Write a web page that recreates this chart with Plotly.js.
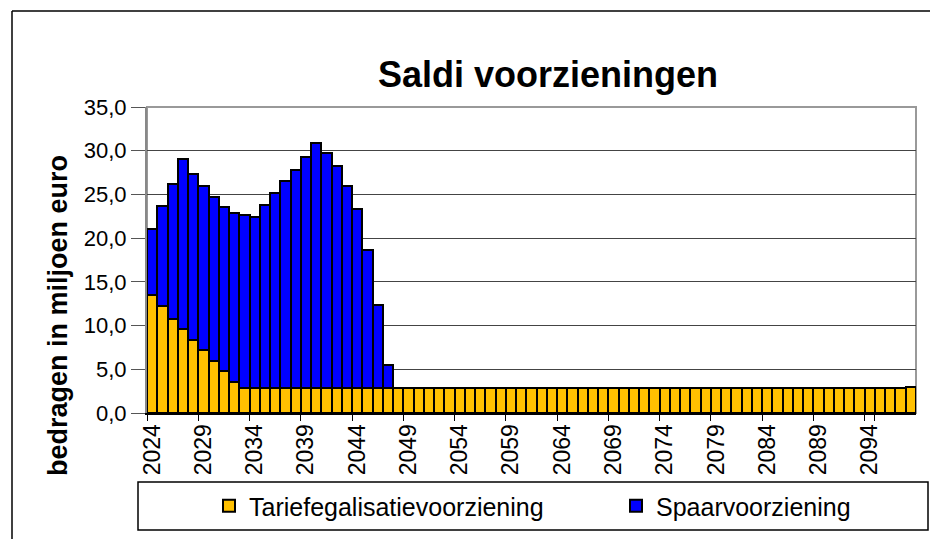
<!DOCTYPE html>
<html>
<head>
<meta charset="utf-8">
<script src="https://cdn.plot.ly/plotly-3.0.1.min.js"></script>
<style>
html,body{margin:0;padding:0;background:#fff;}
#chart{width:930px;height:539px;}
</style>
</head>
<body>
<div id="chart"></div>
<script>
var years = ['2024','2025','2026','2027','2028','2029','2030','2031','2032','2033',
'2034','2035','2036','2037','2038','2039','2040','2041','2042','2043',
'2044','2045','2046','2047','2048','2049','2050','2051','2052','2053',
'2054','2055','2056','2057','2058','2059','2060','2061','2062','2063',
'2064','2065','2066','2067','2068','2069','2070','2071','2072','2073',
'2074','2075','2076','2077','2078','2079','2080','2081','2082','2083',
'2084','2085','2086','2087','2088','2089','2090','2091','2092','2093',
'2094','2095','2096','2097','2098'];

var tariefegalisatie = [13.5,12.2,10.8,9.6,8.3,7.2,6.0,4.8,3.6,2.9,
2.9,2.9,2.9,2.9,2.9,2.9,2.9,2.9,2.9,2.9,
2.9,2.9,2.9,2.9,2.9,2.9,2.9,2.9,2.9,2.9,
2.9,2.9,2.9,2.9,2.9,2.9,2.9,2.9,2.9,2.9,
2.9,2.9,2.9,2.9,2.9,2.9,2.9,2.9,2.9,2.9,
2.9,2.9,2.9,2.9,2.9,2.9,2.9,2.9,2.9,2.9,
2.9,2.9,2.9,2.9,2.9,2.9,2.9,2.9,2.9,2.9,
2.9,2.9,2.9,2.9,3.0];

var spaar = [7.6,11.5,15.4,19.5,19.0,18.8,18.7,18.8,19.3,19.7,
19.5,20.9,22.3,23.6,24.9,26.4,28.0,26.8,25.4,23.1,
20.4,15.7,9.5,2.6,0,0,0,0,0,0,
0,0,0,0,0,0,0,0,0,0,
0,0,0,0,0,0,0,0,0,0,
0,0,0,0,0,0,0,0,0,0,
0,0,0,0,0,0,0,0,0,0,
0,0,0,0,0];

var tickYears = ['2024','2029','2034','2039','2044','2049','2054','2059','2064','2069','2074','2079','2084','2089','2094'];

var seriesNames = ['Tariefegalisatievoorziening','Spaarvoorziening'];
var seriesColors = ['#FFC000','#0000FF'];

var FONT = 'Arial, "Liberation Sans", sans-serif';

// plot area in pixels
var L = 147, R = 14, T = 107, B = 126;
var W = 930, H = 539;
var pw = W - L - R, ph = H - T - B;
function px(x){ return (x - L) / pw; }
function py(y){ return (H - B - y) / ph; }

var traces = [
  {type:'bar', name: seriesNames[0], x: years, y: tariefegalisatie, legend: 'legend',
   marker:{color: seriesColors[0], line:{color:'#000', width:2}}},
  {type:'bar', name: seriesNames[1], x: years, y: spaar, legend: 'legend2',
   marker:{color: seriesColors[1], line:{color:'#000', width:2}}}
];

var legendCommon = {
  orientation: 'h', xanchor: 'left', yanchor: 'middle',
  bgcolor: 'rgba(0,0,0,0)', borderwidth: 0,
  font: {family: FONT, size: 25, color: '#000'}
};

var layout = {
  width: W, height: H,
  margin: {l: L, r: R, t: T, b: B, pad: 0, autoexpand: false},
  paper_bgcolor: '#fff', plot_bgcolor: '#fff',
  barmode: 'stack', bargap: 0,
  separators: ',.',
  font: {family: FONT, color: '#000'},
  title: {text: '<b>Saldi voorzieningen</b>', font: {family: FONT, size: 36, color: '#000'},
          x: 548/W, xanchor: 'center', xref: 'container',
          y: 1 - 74/H, yanchor: 'middle', yref: 'container'},
  xaxis: {
    type: 'category', automargin: false,
    tickmode: 'array', tickvals: tickYears, ticktext: tickYears,
    tickson: 'boundaries',
    ticks: 'outside', ticklen: 6, tickcolor: '#000', tickwidth: 1,
    tickangle: -90,
    tickfont: {family: FONT, size: 23, color: '#000'},
    showline: true, linecolor: '#000', linewidth: 2,
    showgrid: false, zeroline: false,
    fixedrange: true
  },
  yaxis: {
    automargin: false,
    range: [0, 35], dtick: 5, tick0: 0,
    tickformat: '.1f',
    ticks: 'outside', ticklen: 14, tickcolor: '#555', tickwidth: 1,
    tickfont: {family: FONT, size: 22, color: '#000'},
    showline: true, linecolor: '#888', linewidth: 2,
    showgrid: true, gridcolor: '#444', gridwidth: 1,
    zeroline: false,
    fixedrange: true
  },
  showlegend: true,
  legend: Object.assign({}, legendCommon, {x: px(209), y: py(506)}),
  legend2: Object.assign({}, legendCommon, {x: px(616), y: py(506)}),
  annotations: [
    {text: '<b>bedragen in miljoen euro</b>', textangle: -90,
     xref: 'paper', yref: 'paper', x: px(58), y: py(316),
     xanchor: 'center', yanchor: 'middle', showarrow: false,
     font: {family: FONT, size: 27, color: '#000'}}
  ],
  shapes: [
    // plot area border
    {type:'rect', xref:'paper', yref:'paper', x0:0, x1:1, y0:0, y1:1,
     line:{color:'#999', width:2}, fillcolor:'rgba(0,0,0,0)', layer:'below'},
    // legend box
    {type:'rect', xref:'paper', yref:'paper', x0:px(138), x1:px(928), y0:py(530), y1:py(482),
     line:{color:'#000', width:1.5}, fillcolor:'rgba(0,0,0,0)'},
    // outer chart border (top and left)
    {type:'line', xref:'paper', yref:'paper', x0:px(12), x1:px(931), y0:py(11), y1:py(11),
     line:{color:'#000', width:1.5}},
    {type:'line', xref:'paper', yref:'paper', x0:px(12), x1:px(12), y0:py(11), y1:py(540),
     line:{color:'#000', width:1.5}}
  ]
};

Plotly.newPlot('chart', traces, layout, {displayModeBar: false, staticPlot: true});
</script>
</body>
</html>
